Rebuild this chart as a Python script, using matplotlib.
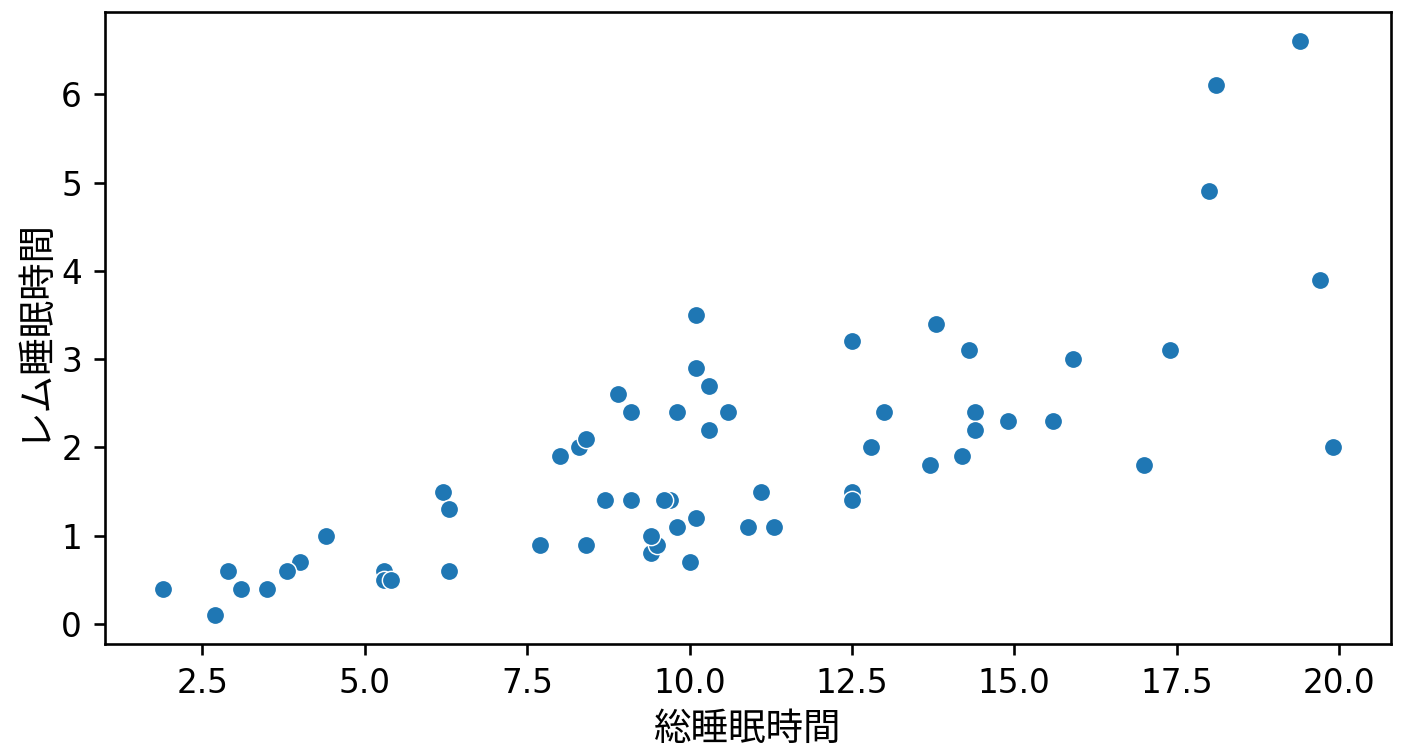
import matplotlib
matplotlib.use("Agg")
import matplotlib.pyplot as plt
import numpy as np

# msleep: total sleep vs REM sleep (rows with REM available)
sleep_total = [17.0, 14.4, 14.9, 4.0, 14.4, 8.7, 10.1, 5.3, 9.4, 10.0,
               12.5, 10.3, 8.3, 9.1, 17.4, 5.3, 18.0, 19.7, 2.9, 3.1,
               10.1, 10.9, 12.5, 9.8, 1.9, 2.7, 6.2, 6.3, 8.0, 9.5,
               19.4, 10.1, 14.2, 14.3, 12.5, 19.9, 7.7, 8.4, 3.8, 9.7,
               9.4, 10.3, 13.7, 3.5, 11.1, 18.1, 5.4, 13.0, 9.6, 8.4,
               11.3, 10.6, 13.8, 15.9, 12.8, 9.1, 4.4, 15.6, 8.9, 6.3, 9.8]
sleep_rem = [1.8, 2.4, 2.3, 0.7, 2.2, 1.4, 2.9, 0.6, 0.8, 0.7,
             1.5, 2.2, 2.0, 1.4, 3.1, 0.5, 4.9, 3.9, 0.6, 0.4,
             3.5, 1.1, 3.2, 1.1, 0.4, 0.1, 1.5, 0.6, 1.9, 0.9,
             6.6, 1.2, 1.9, 3.1, 1.4, 2.0, 0.9, 0.9, 0.6, 1.4,
             1.0, 2.7, 1.8, 0.4, 1.5, 6.1, 0.5, 2.4, 1.4, 2.1,
             1.1, 2.4, 3.4, 3.0, 2.0, 2.4, 1.0, 2.3, 2.6, 1.3, 2.4]
x_label = "総睡眠時間"
y_label = "レム睡眠時間"

k = 2.36
plt.rcParams.update({
    "font.family": ["DejaVu Sans"],
    "font.size": 10 * k,
    "axes.linewidth": 0.8 * k,
    "xtick.major.size": 3.5 * k,
    "ytick.major.size": 3.5 * k,
    "xtick.major.width": 0.8 * k,
    "ytick.major.width": 0.8 * k,
    "xtick.major.pad": 3.5 * k,
    "ytick.major.pad": 3.5 * k,
    "axes.labelpad": 4.0 * k,
})

fig = plt.figure(figsize=(14.13, 7.52), dpi=100)
ax = fig.add_axes([0.0743, 0.1436, 0.9101, 0.8398])
s = 31 * k * k
ax.scatter(sleep_total, sleep_rem, s=s, color="#1f77b4",
           edgecolor="white", linewidth=0.08 * np.sqrt(s))
cjk = ["Noto Sans CJK JP", "DejaVu Sans"]
ax.set_xlabel(x_label, family=cjk, fontsize=27, labelpad=7)
ax.set_ylabel(y_label, family=cjk, fontsize=27, labelpad=7)
fig.savefig("out.png", dpi=100)
